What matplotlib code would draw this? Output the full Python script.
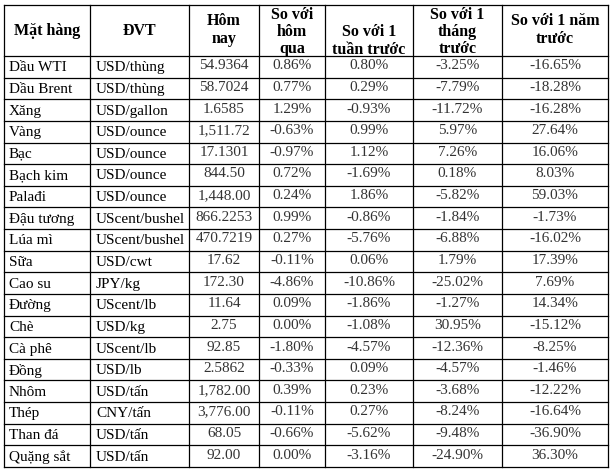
import matplotlib
matplotlib.use("Agg")
import matplotlib.pyplot as plt

items = ["Dầu WTI", "Dầu Brent", "Xăng", "Vàng", "Bạc", "Bạch kim", "Palađi",
         "Đậu tương", "Lúa mì", "Sữa", "Cao su", "Đường", "Chè", "Cà phê",
         "Đồng", "Nhôm", "Thép", "Than đá", "Quặng sắt"]
units = ["USD/thùng", "USD/thùng", "USD/gallon", "USD/ounce", "USD/ounce",
         "USD/ounce", "USD/ounce", "UScent/bushel", "UScent/bushel", "USD/cwt",
         "JPY/kg", "UScent/lb", "USD/kg", "UScent/lb", "USD/lb", "USD/tấn",
         "CNY/tấn", "USD/tấn", "USD/tấn"]
today = ["54.9364", "58.7024", "1.6585", "1,511.72", "17.1301", "844.50",
         "1,448.00", "866.2253", "470.7219", "17.62", "172.30", "11.64", "2.75",
         "92.85", "2.5862", "1,782.00", "3,776.00", "68.05", "92.00"]
vs_day = [0.86, 0.77, 1.29, -0.63, -0.97, 0.72, 0.24, 0.99, 0.27, -0.11, -4.86,
          0.09, 0.00, -1.80, -0.33, 0.39, -0.11, -0.66, 0.00]
vs_week = [0.80, 0.29, -0.93, 0.99, 1.12, -1.69, 1.86, -0.86, -5.76, 0.06,
           -10.86, -1.86, -1.08, -4.57, 0.09, 0.23, 0.27, -5.62, -3.16]
vs_month = [-3.25, -7.79, -11.72, 5.97, 7.26, 0.18, -5.82, -1.84, -6.88, 1.79,
            -25.02, -1.27, 30.95, -12.36, -4.57, -3.68, -8.24, -9.48, -24.90]
vs_year = [-16.65, -18.28, -16.28, 27.64, 16.06, 8.03, 59.03, -1.73, -16.02,
           17.39, 7.69, 14.34, -15.12, -8.25, -1.46, -12.22, -16.64, -36.90, 36.30]
headers = ["Mặt hàng", "ĐVT", "Hôm\nnay", "So với\nhôm\nqua", "So với 1\ntuần trước",
           "So với 1\ntháng\ntrước", "So với 1 năm\ntrước"]

W, H = 613, 471
fig = plt.figure(figsize=(W / 100, H / 100), dpi=100)
ax = fig.add_axes([0, 0, 1, 1])
ax.set_xlim(0, W)
ax.set_ylim(H, 0)
ax.axis("off")

font = ["Liberation Serif", "DejaVu Serif"]
cols = [4, 90, 189, 259, 325, 413, 502, 608]
top, head_bot, bottom = 4.5, 56, 467
n = len(items)
rh = (bottom - head_bot) / n

# grid
for x in cols:
    ax.plot([x, x], [top, bottom], color="black", lw=0.9)
ax.plot([cols[0], cols[-1]], [top, top], color="black", lw=0.9)
for i in range(n + 1):
    y = head_bot + i * rh
    ax.plot([cols[0], cols[-1]], [y, y], color="black", lw=0.9)

# header
head_y = [31, 31, 30, 32, 41, 32, 30]
for j, h in enumerate(headers):
    cx = (cols[j] + cols[j + 1]) / 2
    ax.text(cx, head_y[j], h, ha="center", va="center", family=font,
            fontweight="bold", fontsize=11.5, linespacing=1.1, color="black")

# body
for i in range(n):
    cy = head_bot + (i + 0.5) * rh + 1
    ax.text(cols[0] + 5, cy, items[i], ha="left", va="center", family=font,
            fontsize=11, color="black")
    ax.text(cols[1] + 6, cy, units[i], ha="left", va="center", family=font,
            fontsize=11, color="black")
    vals = [today[i]] + ["%.2f%%" % v for v in
                         (vs_day[i], vs_week[i], vs_month[i], vs_year[i])]
    for k, s in enumerate(vals):
        cx = (cols[k + 2] + cols[k + 3]) / 2
        ax.text(cx, cy - 2, s, ha="center", va="center", family=font,
                fontsize=11, color="#333333")

fig.savefig("out.png", dpi=100)
